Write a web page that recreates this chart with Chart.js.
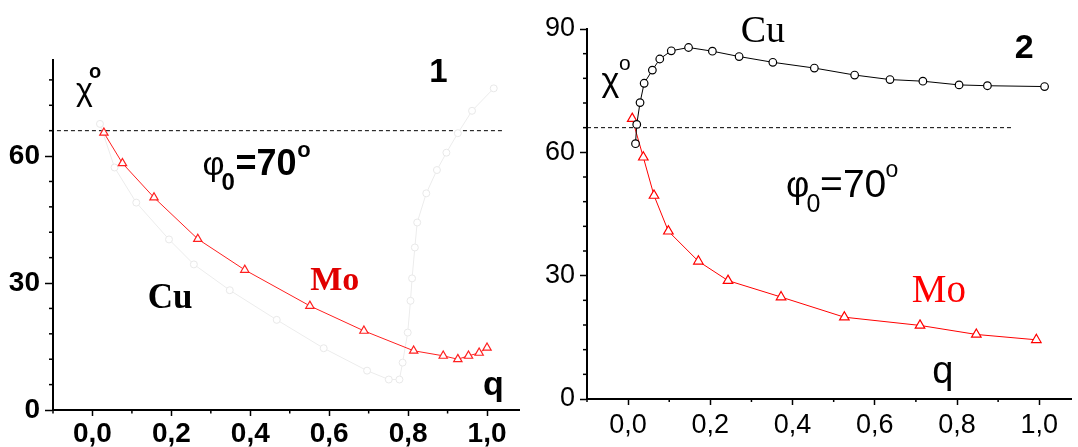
<!DOCTYPE html>
<html>
<head>
<meta charset="utf-8">
<script src="https://cdn.jsdelivr.net/npm/chart.js@4/dist/chart.umd.min.js"></script>
<style>
  body { margin: 0; background: #fff; }
  .wrap { position: absolute; top: 0; height: 447px; }
  #w1 { left: 0; width: 530px; }
  #w2 { left: 530px; width: 548px; }
</style>
</head>
<body>
<div class="wrap" id="w1"><canvas id="chart1"></canvas></div>
<div class="wrap" id="w2"><canvas id="chart2"></canvas></div>
<script>
// panel 1 data (q, chi)
const moQ1 = [0.029, 0.076, 0.156, 0.267, 0.386, 0.551, 0.688, 0.814, 0.889, 0.926, 0.953, 0.98, 1.0]
const moChi1 = [65.5, 58.3, 50.2, 40.4, 33.1, 24.6, 18.7, 14.0, 12.8, 12.0, 12.8, 13.5, 14.7]
const cuQ1 = [0.019, 0.056, 0.111, 0.194, 0.257, 0.348, 0.467, 0.586, 0.696, 0.751, 0.778, 0.786, 0.799, 0.806, 0.81, 0.817, 0.823, 0.846, 0.873, 0.897, 0.926, 0.962, 1.017]
const cuChi1 = [67.6, 57.3, 49.0, 40.3, 34.4, 28.3, 21.3, 14.6, 9.3, 7.2, 7.2, 11.2, 18.3, 25.8, 31.1, 38.4, 44.3, 51.2, 56.7, 60.8, 65.4, 70.7, 76.0]

// panel 2 data
const cuQ2 = [0.018, 0.021, 0.029, 0.039, 0.059, 0.077, 0.105, 0.147, 0.205, 0.27, 0.352, 0.453, 0.551, 0.637, 0.717, 0.805, 0.874, 1.013]
const cuChi2 = [62.1, 66.8, 72.1, 76.8, 80.0, 82.7, 84.7, 85.5, 84.6, 83.3, 81.9, 80.5, 78.8, 77.7, 77.3, 76.4, 76.2, 76.0]
const moQ2 = [0.01, 0.037, 0.063, 0.098, 0.171, 0.243, 0.372, 0.526, 0.71, 0.847, 0.993]
const moChi2 = [68.2, 58.8, 49.5, 40.8, 33.5, 28.8, 24.8, 19.9, 17.9, 15.7, 14.4]

// dashed level chi = 66
const refQ1 = [-0.09, 1.04]
const refQ2 = [-0.1, 0.933]
const refChi = [66, 66]

const pts = (xs, ys) => xs.map((x, i) => ({ x: x, y: ys[i] }))

// minor ticks are shorter than the labelled ones
const minorTicks = {
    id: 'minorTicks',
    afterDraw(chart) {
        const c = chart.ctx
        c.save()
        c.strokeStyle = '#000'
        c.lineWidth = 1.5
        for (const id of ['x', 'y']) {
            const s = chart.scales[id]
            const len = s.options.minorLen
            s.ticks.forEach((t, i) => {
                if (t.label !== '') return
                const p = s.getPixelForValue(t.value)
                c.beginPath()
                if (id == 'x') {
                    c.moveTo(p, s.top)
                    c.lineTo(p, s.top + len)
                } else {
                    c.moveTo(s.right, p)
                    c.lineTo(s.right - len, p)
                }
                c.stroke()
            })
        }
        c.restore()
    }
}

// free text placed in data coordinates
const notes = {
    id: 'notes',
    afterDatasetsDraw(chart, args, opts) {
        const c = chart.ctx
        const sx = chart.scales.x, sy = chart.scales.y
        c.save()
        c.textBaseline = 'alphabetic'
        for (const n of opts.items) {
            c.font = n.font
            c.fillStyle = n.color || '#000'
            c.textAlign = n.align || 'left'
            c.fillText(n.text, sx.getPixelForValue(n.q), sy.getPixelForValue(n.v))
        }
        c.restore()
    }
}

function axes(o) {
    const fmtX = v => (Math.round(v * 10) % 2 === 0) ? v.toFixed(1).replace('.', ',') : ''
    const fmtY = v => (Math.round(v) % 30 === 0) ? String(Math.round(v)) : ''
    return {
        x: {
            type: 'linear', min: -0.1, max: o.xMax,
            border: { color: '#000', width: 2 },
            grid: { drawOnChartArea: false, tickLength: o.xTick, tickWidth: 1.5,
                tickColor: ctx => ctx.tick && ctx.tick.label !== '' ? '#000' : 'rgba(0,0,0,0)' },
            ticks: { stepSize: 0.1, includeBounds: false, autoSkip: false, maxRotation: 0, maxTicksLimit: 100,
                color: '#000', padding: o.xPad, font: { family: o.family, size: o.size, weight: o.weight },
                callback: fmtX },
            minorLen: o.xMinor,
            afterFit: s => { s.height = o.xH }
        },
        y: {
            type: 'linear', min: 0, max: o.yMax,
            border: { color: '#000', width: 2 },
            grid: { drawOnChartArea: false, tickLength: o.yTick, tickWidth: 1.5,
                tickColor: ctx => ctx.tick && ctx.tick.label !== '' ? '#000' : 'rgba(0,0,0,0)' },
            ticks: { stepSize: 6, includeBounds: false, autoSkip: false, maxTicksLimit: 100,
                color: '#000', padding: o.yPad, font: { family: o.family, size: o.size, weight: o.weight },
                callback: fmtY },
            minorLen: o.yMinor,
            afterFit: s => { s.width = o.yW }
        }
    }
}

const sans = '"Liberation Sans", Arial, sans-serif'
const serif = '"Liberation Serif", "Times New Roman", serif'

new Chart(document.getElementById('chart1'), {
    type: 'scatter',
    data: {
        datasets: [{
            label: 'Mo',
            data: pts(moQ1, moChi1),
            showLine: true, borderColor: '#ff2020', borderWidth: 1,
            pointStyle: 'triangle', pointRadius: 4.8, pointBorderColor: '#ff2020',
            pointBackgroundColor: '#fff', pointBorderWidth: 1.2, order: 0
        }, {
            label: 'Cu',
            data: pts(cuQ1, cuChi1),
            showLine: true, borderColor: '#ececec', borderWidth: 1,
            pointStyle: 'circle', pointRadius: 3.5, pointBorderColor: '#e8e8e8',
            pointBackgroundColor: '#fff', pointBorderWidth: 1, order: 1
        }, {
            label: 'ref',
            data: pts(refQ1, refChi),
            showLine: true, borderColor: '#000', borderWidth: 1, borderDash: [4, 3],
            pointRadius: 0, order: 2
        }]
    },
    options: {
        responsive: true, maintainAspectRatio: false, animation: false,
        layout: { padding: { left: 0, right: 11, top: 60, bottom: 0 } },
        plugins: {
            legend: { display: false }, tooltip: { enabled: false },
            notes: { items: [
                { text: 'χ', q: -0.042, v: 73.2, font: '32px ' + sans },
                { text: 'o', q: -0.009, v: 78.4, font: 'bold 20px ' + sans },
                { text: '1', q: 0.877, v: 77.5, font: 'bold 33px ' + sans, align: 'center' },
                { text: 'φ', q: 0.279, v: 55.5, font: '34px ' + sans },
                { text: '0', q: 0.327, v: 52.0, font: 'bold 24px ' + sans },
                { text: '=70', q: 0.3625, v: 55.5, font: 'bold 36px ' + sans },
                { text: 'o', q: 0.519, v: 59.8, font: 'bold 22px ' + sans },
                { text: 'Mo', q: 0.552, v: 28.3, font: 'bold 34px ' + serif, color: '#e00000' },
                { text: 'Cu', q: 0.140, v: 24.1, font: 'bold 35px ' + serif },
                { text: 'q', q: 0.99, v: 3.5, font: 'bold 34px ' + sans }
            ] }
        },
        scales: axes({ xMax: 1.081, yMax: 82.7, xTick: 6, xMinor: 3.5, yTick: 8, yMinor: 4,
            xPad: 1, yPad: 5, xH: 37, yW: 53, family: sans, size: 28, weight: 'bold' })
    },
    plugins: [minorTicks, notes]
})

new Chart(document.getElementById('chart2'), {
    type: 'scatter',
    data: {
        datasets: [{
            label: 'Cu',
            data: pts(cuQ2, cuChi2),
            showLine: true, borderColor: '#000', borderWidth: 1,
            pointStyle: 'circle', pointRadius: 3.8, pointBorderColor: '#000',
            pointBackgroundColor: '#fff', pointBorderWidth: 1.2, order: 0
        }, {
            label: 'Mo',
            data: pts(moQ2, moChi2),
            showLine: true, borderColor: '#ff0000', borderWidth: 1,
            pointStyle: 'triangle', pointRadius: 5.5, pointBorderColor: '#ff0000',
            pointBackgroundColor: '#fff', pointBorderWidth: 1.2, order: 1
        }, {
            label: 'ref',
            data: pts(refQ2, refChi),
            showLine: true, borderColor: '#000', borderWidth: 1, borderDash: [4, 3],
            pointRadius: 0, order: 2
        }]
    },
    options: {
        responsive: true, maintainAspectRatio: false, animation: false,
        layout: { padding: { left: 0, right: 0, top: 29, bottom: 0 } },
        plugins: {
            legend: { display: false }, tooltip: { enabled: false },
            notes: { items: [
                { text: 'Cu', q: 0.274, v: 86.8, font: '38px ' + serif },
                { text: '2', q: 0.9635, v: 82.9, font: 'bold 34px ' + sans, align: 'center' },
                { text: 'χ', q: -0.065, v: 74.9, font: '34px ' + sans },
                { text: 'o', q: -0.022, v: 80.0, font: '21px ' + sans },
                { text: 'φ', q: 0.384, v: 49.1, font: '36px ' + sans },
                { text: '0', q: 0.434, v: 45.5, font: '25px ' + sans },
                { text: '=70', q: 0.467, v: 49.1, font: '39px ' + sans },
                { text: 'o', q: 0.626, v: 54.0, font: '23px ' + sans },
                { text: 'Mo', q: 0.69, v: 23.6, font: '39px ' + serif, color: '#ff0000' },
                { text: 'q', q: 0.74, v: 4.0, font: '38px ' + sans }
            ] }
        },
        scales: axes({ xMax: 1.078, yMax: 90, xTick: 6, xMinor: 3, yTick: 7, yMinor: 4,
            xPad: 4, yPad: 5, xH: 48, yW: 57, family: sans, size: 27, weight: 'normal' })
    },
    plugins: [minorTicks, notes]
})
</script>
</body>
</html>
